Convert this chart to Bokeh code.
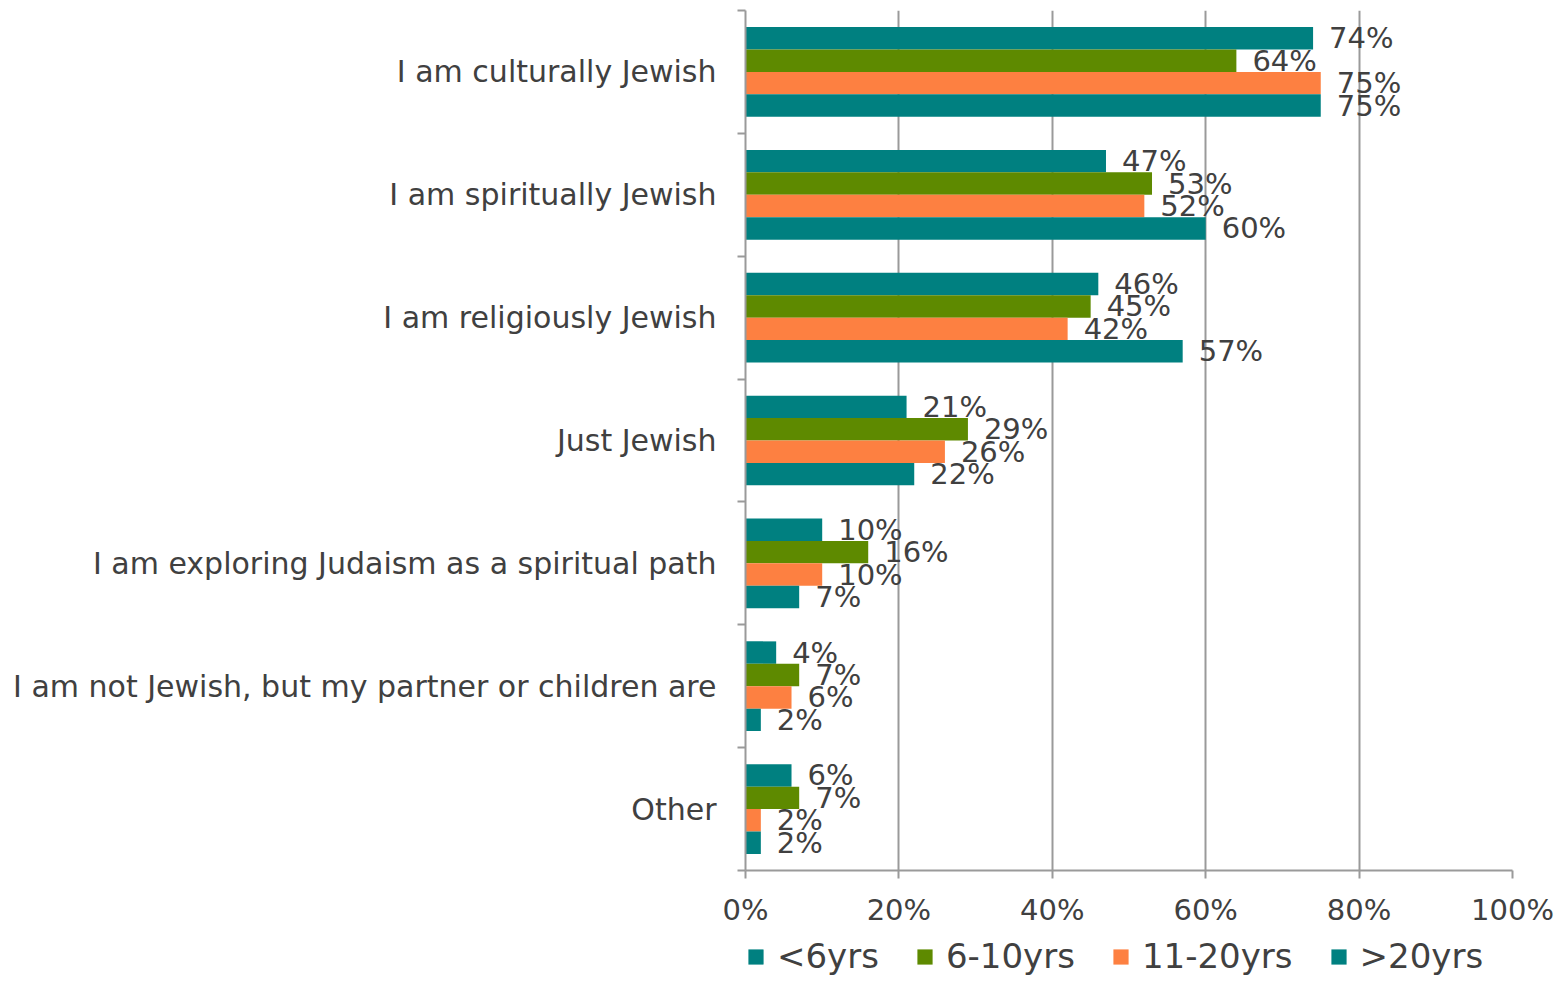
from bokeh.plotting import figure
from bokeh.layouts import column
from bokeh.models import ColumnDataSource, FixedTicker, LabelSet, Legend, LegendItem
from bokeh.core.properties import value
from bokeh.embed import file_html
from bokeh.resources import INLINE

categories = [
    "I am culturally Jewish",
    "I am spiritually Jewish",
    "I am religiously Jewish",
    "Just Jewish",
    "I am exploring Judaism as a spiritual path",
    "I am not Jewish, but my partner or children are",
    "Other",
]
series_names = ["<6yrs", "6-10yrs", "11-20yrs", ">20yrs"]
lt6 = [74, 47, 46, 21, 10, 4, 6]
y6_10 = [64, 53, 45, 29, 16, 7, 7]
y11_20 = [75, 52, 42, 26, 10, 6, 2]
gt20 = [75, 60, 57, 22, 7, 2, 2]
series_values = [lt6, y6_10, y11_20, gt20]
colors = ["#008080", "#5E8A00", "#FD8041", "#008080"]
x_ticks = [0, 20, 40, 60, 80, 100]

FONT = "DejaVu Sans"
TXT = "#404040"
GRID = "#9a9a9a"

n = len(categories)
centers = [n - i - 0.5 for i in range(n)]
bar_h = 0.1825

p = figure(frame_width=767, frame_height=860, x_range=(0, 100), y_range=(0, n),
           output_backend="svg", toolbar_location=None,
           min_border_left=745, min_border_right=56, min_border_top=10,
           min_border_bottom=0)
p.outline_line_color = None
p.background_fill_color = "white"

# small strip below the chart that carries the legend
leg_fig = figure(width=1568, height=70, x_range=(0, 100), y_range=(0, n),
                 output_backend="svg", toolbar_location=None,
                 x_axis_location=None, y_axis_location=None,
                 min_border=0)
leg_fig.outline_line_color = None
leg_fig.grid.grid_line_color = None

items = []
for j, (name, vals, col) in enumerate(zip(series_names, series_values, colors)):
    ys = [c + (1.5 - j) * bar_h for c in centers]
    src = ColumnDataSource(dict(y=ys, v=vals, lbl=[f"{v}%" for v in vals]))
    p.hbar(y="y", right="v", left=0, height=bar_h, source=src,
           fill_color=col, line_color=None)
    r2 = leg_fig.hbar(y="y", right="v", left=0, height=bar_h, source=src,
                      fill_color=col, line_color=None, visible=False)
    items.append(LegendItem(label=name, renderers=[r2]))
    labels = LabelSet(x="v", y="y", text="lbl", source=src, x_offset=16,
                      text_baseline="middle", text_align="left",
                      text_font=value(FONT), text_font_size="29px",
                      text_color=TXT)
    p.add_layout(labels)

# x axis
p.xaxis.ticker = FixedTicker(ticks=x_ticks)
p.xaxis.major_label_overrides = {t: f"{t}%" for t in x_ticks}
p.xaxis.axis_line_color = GRID
p.xaxis.axis_line_width = 2
p.xaxis.major_tick_line_color = GRID
p.xaxis.major_tick_line_width = 2
p.xaxis.major_tick_out = 8
p.xaxis.major_tick_in = 0
p.xaxis.minor_tick_line_color = None
p.xaxis.major_label_standoff = 14
p.xaxis.major_label_text_font = FONT
p.xaxis.major_label_text_font_size = "29px"
p.xaxis.major_label_text_color = TXT

p.xgrid.ticker = FixedTicker(ticks=x_ticks)
p.xgrid.grid_line_color = GRID
p.xgrid.grid_line_width = 2
p.ygrid.grid_line_color = None

# y axis
p.yaxis.ticker = FixedTicker(ticks=centers, minor_ticks=list(range(n + 1)))
p.yaxis.major_label_overrides = {c: cat for c, cat in zip(centers, categories)}
p.yaxis.axis_line_color = GRID
p.yaxis.axis_line_width = 2
p.yaxis.major_tick_line_color = None
p.yaxis.major_tick_out = 0
p.yaxis.major_tick_in = 0
p.yaxis.minor_tick_line_color = GRID
p.yaxis.minor_tick_line_width = 2
p.yaxis.minor_tick_out = 8
p.yaxis.minor_tick_in = 0
p.yaxis.major_label_standoff = 21
p.yaxis.major_label_text_font = FONT
p.yaxis.major_label_text_font_size = "30px"
p.yaxis.major_label_text_color = TXT

legend = Legend(items=items, orientation="horizontal", location=(1, 23),
                glyph_width=19, glyph_height=19, label_standoff=12,
                spacing=36, padding=0, margin=0,
                label_text_font=FONT, label_text_font_size="34px",
                label_text_color=TXT, border_line_color=None,
                background_fill_alpha=0)
leg_fig.add_layout(legend, "center")

layout = column(p, leg_fig, spacing=0)
open("out.html", "w").write(file_html(layout, INLINE))
